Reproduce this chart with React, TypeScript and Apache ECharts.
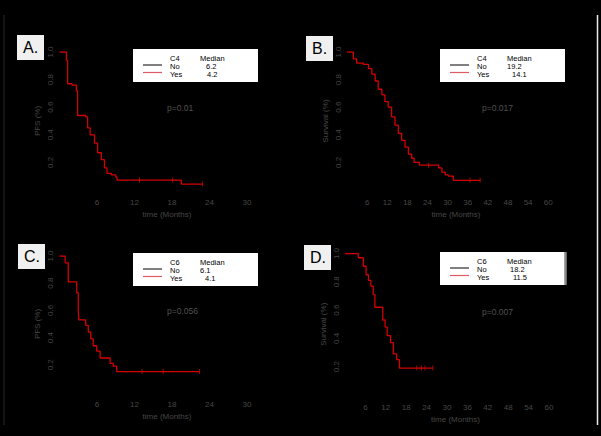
import React, { useEffect, useRef } from 'react';
import * as echarts from 'echarts';

// ---- Data ----
const panelLetters = ['A.', 'B.', 'C.', 'D.'];
const groupVars = ['C4', 'C4', 'C6', 'C6'];
const medianNo = ['6.2', '19.2', '6.1', '18.2'];
const medianYes = ['4.2', '14.1', '4.1', '11.5'];
const pValues = ['p=0.01', 'p=0.017', 'p=0.056', 'p=0.007'];
const yTitles = ['PFS (%)', 'Survival (%)', 'PFS (%)', 'Survival (%)'];
const xTitle = 'time (Months)';
const groupLabels = ['No', 'Yes'];
const xTickStep = 6;
const yTickStep = 0.2;

const timeA = [0, 1.1, 1.3, 2.0, 2.7, 2.9, 4.2, 4.5, 4.9, 5.6, 6.1, 6.7, 7.2, 7.6, 8.3, 9.0, 9.2, 19.5, 22.9];
const survA = [1.0, 0.94, 0.77, 0.76, 0.72, 0.54, 0.53, 0.45, 0.4, 0.34, 0.27, 0.22, 0.16, 0.12, 0.11, 0.094, 0.072, 0.043, 0.043];
const censTimeA = [12.8, 18.1, 22.9];
const censSurvA = [0.072, 0.072, 0.043];

const timeB = [0, 1.9, 2.9, 4.9, 6.4, 7.4, 8.4, 9.3, 10.4, 11.3, 12.3, 13.3, 14.3, 15.3, 16.3, 17.3, 18.3, 19.3, 20.0, 21.6, 27.3, 28.3, 29.3, 30.2, 31.7, 39.7];
const survB = [1.0, 0.95, 0.92, 0.91, 0.88, 0.84, 0.79, 0.73, 0.69, 0.64, 0.6, 0.53, 0.47, 0.41, 0.36, 0.31, 0.26, 0.23, 0.2, 0.18, 0.16, 0.13, 0.11, 0.1, 0.07, 0.07];
const censTimeB = [24.3, 36.7, 39.7];
const censSurvB = [0.18, 0.07, 0.07];

const timeC = [0, 0.9, 1.4, 2.75, 3.0, 3.1, 4.2, 4.6, 5.0, 5.4, 5.95, 6.5, 8.1, 8.6, 9.15, 22.4];
const survC = [1.0, 0.95, 0.81, 0.73, 0.6, 0.53, 0.49, 0.44, 0.39, 0.34, 0.3, 0.25, 0.21, 0.19, 0.15, 0.15];
const censTimeC = [13.2, 16.6, 22.4];
const censSurvC = [0.15, 0.15, 0.15];

const timeD = [0, 3.9, 5.4, 6.2, 6.9, 7.6, 8.3, 8.8, 11.1, 11.8, 12.4, 13.4, 14.2, 15.2, 16.0, 25.8];
const survD = [1.0, 0.97, 0.91, 0.85, 0.81, 0.77, 0.71, 0.62, 0.53, 0.48, 0.42, 0.37, 0.29, 0.25, 0.19, 0.19];
const censTimeD = [21.1, 22.5, 23.5, 25.8];
const censSurvD = [0.19, 0.19, 0.19, 0.19];

const xMaxes = [34.4, 65, 34.4, 65];

const curves = [
  [timeA, survA, censTimeA, censSurvA],
  [timeB, survB, censTimeB, censSurvB],
  [timeC, survC, censTimeC, censSurvC],
  [timeD, survD, censTimeD, censSurvD],
];

// ---- Layout ----
const panelLayout = [
  { grid: { left: 59.5, top: 52, width: 215, height: 138 }, labelBox: [17, 35], legendBox: [133, 49], p: [167, 108], noX: 206, yesX: 207, edge: false },
  { grid: { left: 347, top: 52, width: 218, height: 138 }, labelBox: [306, 36], legendBox: [440, 49], p: [482, 108], noX: 507, yesX: 512, edge: false },
  { grid: { left: 59.5, top: 256, width: 215, height: 136 }, labelBox: [18, 244], legendBox: [133, 253], p: [167, 311], noX: 200, yesX: 205, edge: false },
  { grid: { left: 345, top: 253.5, width: 221, height: 141.5 }, labelBox: [304, 245], legendBox: [440, 252], p: [482, 312], noX: 510, yesX: 513, edge: true },
];

const RED = '#d40000';
const TICK = '#474747';
const FONT = 'Liberation Sans, Arial, sans-serif';

export default function App() {
  const ref = useRef<HTMLDivElement>(null);
  useEffect(() => {
    document.body.style.margin = '0';
    document.body.style.background = '#000';
    const chart = echarts.init(ref.current!, null, { renderer: 'svg' });

    const grids: any[] = [];
    const xAxes: any[] = [];
    const yAxes: any[] = [];
    const series: any[] = [];
    const graphics: any[] = [];

    panelLayout.forEach((pl, i) => {
      grids.push({ ...pl.grid, containLabel: false });
      xAxes.push({
        type: 'value', gridIndex: i, min: 0, max: xMaxes[i], interval: xTickStep,
        name: xTitle, nameLocation: 'middle', nameGap: 20,
        nameTextStyle: { color: TICK, fontSize: 8, fontFamily: FONT },
        axisLine: { show: false }, axisTick: { show: false }, splitLine: { show: false },
        axisLabel: {
          color: TICK, fontSize: 8, fontFamily: FONT, margin: 8,
          formatter: (v: number) => (v > 0 && Math.abs(v % xTickStep) < 1e-6 ? String(v) : ''),
        },
      });
      yAxes.push({
        type: 'value', gridIndex: i, min: 0, max: 1, interval: yTickStep,
        name: yTitles[i], nameLocation: 'middle', nameGap: 18,
        nameTextStyle: { color: TICK, fontSize: 8, fontFamily: FONT },
        axisLine: { show: false }, axisTick: { show: false }, splitLine: { show: false },
        axisLabel: {
          color: TICK, fontSize: 8, fontFamily: FONT, margin: 5, rotate: 90,
          formatter: (v: number) => (v > 0 ? v.toFixed(1) : ''),
        },
      });
      const [t, s, ct, cs] = curves[i];
      series.push({
        type: 'line', xAxisIndex: i, yAxisIndex: i, step: 'end', showSymbol: false,
        lineStyle: { color: RED, width: 1.3 }, silent: true,
        data: t.map((x, k) => [x, s[k]]),
      });
      series.push({
        type: 'scatter', xAxisIndex: i, yAxisIndex: i, symbol: 'rect', symbolSize: [1, 5],
        itemStyle: { color: RED }, silent: true,
        data: ct.map((x, k) => [x, cs[k]]),
      });

      // Panel letter box
      const [lx, ly] = pl.labelBox;
      graphics.push({ type: 'rect', shape: { x: lx, y: ly, width: 27, height: 25 }, style: { fill: '#f0f0f0' } });
      graphics.push({ type: 'text', x: lx + 6, y: ly + 12.5, style: { text: panelLetters[i], fill: '#000', font: '16px ' + FONT, verticalAlign: 'middle' } });

      // Legend box
      const [bx, by] = pl.legendBox;
      graphics.push({ type: 'rect', shape: { x: bx, y: by, width: 125, height: 33 }, style: { fill: '#ffffff' } });
      if (pl.edge) {
        graphics.push({ type: 'line', shape: { x1: bx + 125.5, y1: by, x2: bx + 125.5, y2: by + 33 }, style: { stroke: '#8a8a8a', lineWidth: 2.5 } });
      }
      const f = '7.5px ' + FONT;
      graphics.push({ type: 'text', x: bx + 37, y: by + 9, style: { text: groupVars[i], fill: '#000', font: f, verticalAlign: 'middle' } });
      graphics.push({ type: 'text', x: bx + 67, y: by + 9, style: { text: 'Median', fill: '#000', font: f, verticalAlign: 'middle' } });
      graphics.push({ type: 'text', x: bx + 37, y: by + 17, style: { text: groupLabels[0], fill: '#000', font: f, verticalAlign: 'middle' } });
      graphics.push({ type: 'text', x: bx + 37, y: by + 25, style: { text: groupLabels[1], fill: '#000', font: f, verticalAlign: 'middle' } });
      graphics.push({ type: 'text', x: pl.noX, y: by + 17, style: { text: medianNo[i], fill: '#000', font: f, verticalAlign: 'middle' } });
      graphics.push({ type: 'text', x: pl.yesX, y: by + 25, style: { text: medianYes[i], fill: '#000', font: f, verticalAlign: 'middle' } });
      graphics.push({ type: 'line', shape: { x1: bx + 10, y1: by + 16, x2: bx + 29, y2: by + 16 }, style: { stroke: '#000', lineWidth: 1 } });
      graphics.push({ type: 'line', shape: { x1: bx + 10, y1: by + 23.5, x2: bx + 29, y2: by + 23.5 }, style: { stroke: '#e05a66', lineWidth: 1.2 } });

      // p-value
      graphics.push({ type: 'text', x: pl.p[0], y: pl.p[1], style: { text: pValues[i], fill: '#505050', font: '8.5px ' + FONT, verticalAlign: 'middle' } });
    });

    // frame lines
    graphics.push({ type: 'line', shape: { x1: 4, y1: 15, x2: 4, y2: 425 }, style: { stroke: '#2a2a2a', lineWidth: 1 } });
    graphics.push({ type: 'line', shape: { x1: 597.5, y1: 15, x2: 597.5, y2: 425 }, style: { stroke: '#e8e8e8', lineWidth: 1.5 } });

    chart.setOption({
      animation: false,
      backgroundColor: '#000',
      grid: grids,
      xAxis: xAxes,
      yAxis: yAxes,
      series,
      graphic: graphics,
    });
    return () => chart.dispose();
  }, []);
  return <div ref={ref} style={{ width: 601, height: 436, background: '#000' }} />;
}
